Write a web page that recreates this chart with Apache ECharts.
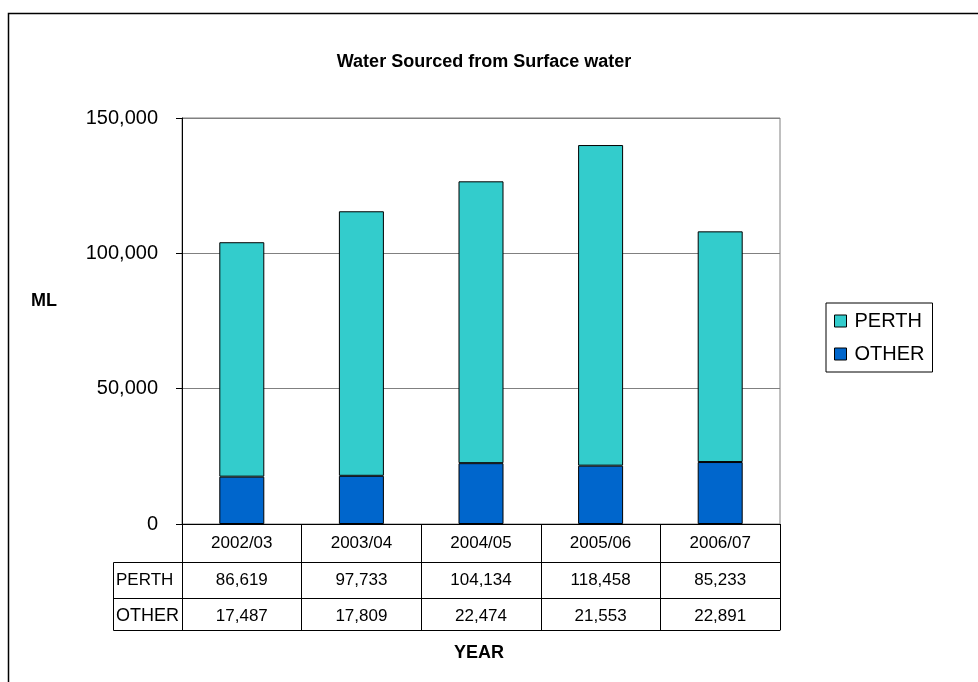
<!DOCTYPE html>
<html>
<head>
<meta charset="utf-8">
<script src="https://cdn.jsdelivr.net/npm/echarts@6/dist/echarts.min.js"></script>
<style>
  html, body { margin: 0; padding: 0; background: #fff; }
  #chart { width: 978px; height: 682px; }
</style>
</head>
<body>
<div id="chart"></div>
<script>
// 数据
const years = ['2002/03', '2003/04', '2004/05', '2005/06', '2006/07']
const perth = [86619, 97733, 104134, 118458, 85233]
const other = [17487, 17809, 22474, 21553, 22891]
const yTicks = [0, 50000, 100000, 150000]

const fmt = v => v.toLocaleString('en-US')
const FONT = '"Liberation Sans", Arial, sans-serif'

const chart = echarts.init(document.getElementById('chart'))

// 表格行用的附加 x 轴
const tableAxis = (data, offset, tickLen, showLabel) => ({
  type: 'category',
  gridIndex: 0,
  position: 'bottom',
  offset: offset,
  data: data,
  axisLine: { show: true, lineStyle: { color: '#000', width: 1 } },
  axisTick: { show: tickLen > 0, length: tickLen, lineStyle: { color: '#000' } },
  axisLabel: {
    show: showLabel, interval: 0, margin: 10,
    color: '#000', fontSize: 17, fontFamily: FONT
  },
  splitLine: { show: false }
})

const option = {
  backgroundColor: '#fff',
  animation: false,
  title: {
    text: 'Water Sourced from Surface water',
    left: 479, top: 48, textAlign: 'center',
    textStyle: { fontSize: 18, fontWeight: 'bold', fontFamily: FONT, color: '#000' }
  },
  legend: {
    orient: 'vertical',
    left: 826, top: 303,
    data: ['PERTH', 'OTHER'],
    icon: 'rect',
    itemWidth: 12, itemHeight: 12, itemGap: 13,
    padding: [8, 8, 8, 8],
    borderColor: '#000', borderWidth: 1,
    textStyle: { fontSize: 20, fontFamily: FONT, color: '#000', padding: [0, 0, 0, 3] },
    itemStyle: { borderColor: '#000', borderWidth: 1 }
  },
  grid: {
    left: 182, right: 198, top: 118, bottom: 158,
    show: true, borderColor: '#808080', borderWidth: 1
  },
  xAxis: [
    {
      type: 'category',
      data: years,
      axisLine: { show: true, lineStyle: { color: '#000', width: 1 } },
      axisTick: { show: true, length: 38, lineStyle: { color: '#000' } },
      axisLabel: { interval: 0, margin: 11, color: '#000', fontSize: 17, fontFamily: FONT },
      splitLine: { show: false }
    },
    tableAxis(perth.map(fmt), 38, 36, true),
    tableAxis(other.map(fmt), 74, 32, true),
    tableAxis(years.map(() => ''), 106, 0, false)
  ],
  yAxis: {
    type: 'value',
    min: yTicks[0], max: yTicks[yTicks.length - 1], interval: yTicks[1] - yTicks[0],
    axisLine: { show: true, lineStyle: { color: '#000' } },
    axisTick: { show: true, length: 6, lineStyle: { color: '#000' } },
    axisLabel: { formatter: fmt, color: '#000', fontSize: 20, fontFamily: FONT, margin: 24 },
    splitLine: { show: true, lineStyle: { color: '#808080', width: 1 } }
  },
  series: [
    {
      name: 'OTHER', type: 'bar', stack: 'total', data: other,
      barWidth: 45,
      itemStyle: { color: '#0066CC', borderColor: '#000', borderWidth: 1 }
    },
    {
      name: 'PERTH', type: 'bar', stack: 'total', data: perth,
      barWidth: 45,
      itemStyle: { color: '#33CCCC', borderColor: '#000', borderWidth: 1 }
    }
  ],
  graphic: [
    // 外框
    { type: 'rect', shape: { x: 8.5, y: 13.5, width: 1000, height: 700 },
      style: { fill: 'none', stroke: '#000', lineWidth: 1.5 }, silent: true },
    // 表格左侧行标题
    { type: 'polyline', shape: { points: [[182, 562.5], [113.5, 562.5], [113.5, 630.5], [182, 630.5]] },
      style: { fill: 'none', stroke: '#000', lineWidth: 1 } },
    { type: 'line', shape: { x1: 113.5, y1: 598.5, x2: 182, y2: 598.5 },
      style: { stroke: '#000', lineWidth: 1 } },
    { type: 'text', left: 116, top: 572,
      style: { text: 'PERTH', fontSize: 17, fontFamily: FONT, fill: '#000' } },
    { type: 'text', left: 116, top: 607,
      style: { text: 'OTHER', fontSize: 18, fontFamily: FONT, fill: '#000' } },
    // 轴标题
    { type: 'text', left: 31, top: 292,
      style: { text: 'ML', fontSize: 18, fontWeight: 'bold', fontFamily: FONT, fill: '#000' } },
    { type: 'text', left: 454, top: 644,
      style: { text: 'YEAR', fontSize: 18, fontWeight: 'bold', fontFamily: FONT, fill: '#000' } }
  ]
}

chart.setOption(option)
</script>
</body>
</html>
